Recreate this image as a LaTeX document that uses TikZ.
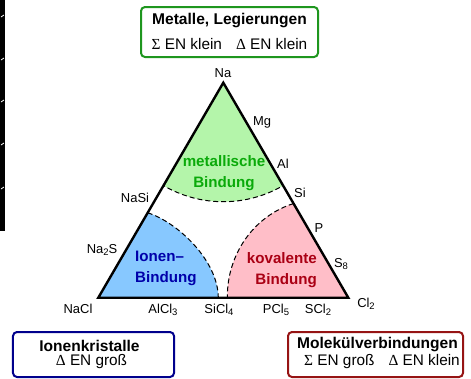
\documentclass[tikz,border=0pt]{standalone}
\usepackage{fontspec}
\setmainfont{Liberation Sans}
\newfontfamily\symf{Liberation Serif}
\usetikzlibrary{calc}
\definecolor{gfill}{RGB}{180,245,170}
\definecolor{bfill}{RGB}{135,200,255}
\definecolor{pfill}{RGB}{255,190,200}
\definecolor{gtext}{RGB}{10,170,10}
\definecolor{btext}{RGB}{0,0,170}
\definecolor{rtext}{RGB}{170,0,20}
\definecolor{gbord}{RGB}{30,150,30}
\definecolor{bbord}{RGB}{0,0,140}
\definecolor{rbord}{RGB}{150,20,20}
\newcommand\sbx[1]{\raisebox{-0.35ex}{\fontsize{9.5}{9.5}\selectfont #1}}
\begin{document}
\begin{tikzpicture}[x=1bp,y=-1bp,
  lab/.style={font=\fontsize{13}{13}\selectfont, inner sep=0pt},
  reg/.style={font=\fontsize{15.2}{21}\selectfont\bfseries, inner sep=0pt},
  boxst/.style={draw, line width=2bp, rounded corners=4bp},
  btitle/.style={font=\fontsize{15.6}{15.6}\selectfont\bfseries, inner sep=0pt},
  bline/.style={font=\fontsize{15.4}{15.4}\selectfont, inner sep=0pt},
  dsh/.style={dash pattern=on 5bp off 3bp, line width=1bp},
  edgeline/.style={line width=2.4bp, line join=miter}]
\useasboundingbox (0,0) rectangle (471,378);
% left edge strip
\fill[black] (0,0) rectangle (5,231);
\foreach \yy in {15,58,100,143,187} \draw[white, line width=0.8bp] (1,\yy+2) -- (4,\yy);
% corners
\coordinate (Na) at (223.3,82.7);
\coordinate (NaCl) at (98.3,297.7);
\coordinate (Cl) at (348.3,297.7);
% green region
\begin{scope}
  \clip (Na) -- (NaCl) -- (Cl) -- cycle;
  \fill[gfill] (Na) circle (119);
  \draw[dsh] (Na) circle (119);
\end{scope}
% blue region
\coordinate (b1) at ($(NaCl)!0.395!(Na)$);
\coordinate (b2) at ($(NaCl)!0.48!(Cl)$);
\fill[bfill] (NaCl) -- (b1) .. controls (177,222) and (218,260) .. (b2) -- cycle;
\draw[dsh] (b1) .. controls (177,222) and (218,260) .. (b2);
% pink region
\coordinate (p1) at ($(Cl)!0.438!(Na)$);
\coordinate (p2) at ($(Cl)!0.484!(NaCl)$);
\fill[pfill] (Cl) -- (p1) .. controls (254,216) and (227,254) .. (p2) -- cycle;
\draw[dsh] (p1) .. controls (254,216) and (227,254) .. (p2);
% triangle
\draw[edgeline] (Na) -- (NaCl) -- (Cl) -- cycle;
% vertex/edge labels
\node[lab] (lNa) at (223,73) {Na};
\node[lab] (lMg) at (262,122) {Mg};
\node[lab] (lAl) at (283,164) {Al};
\node[lab] (lSi) at (300,193) {Si};
\node[lab] (lP) at (319,228) {P};
\node[lab] (lS8) at (341,264) {S\sbx{8}};
\node[lab] (lCl2) at (366,304) {Cl\sbx{2}};
\node[lab] (lNaSi) at (135,198) {NaSi};
\node[lab] (lNa2S) at (102,250) {Na\sbx{2}S};
\node[lab] (lNaCl) at (78,309) {NaCl};
\node[lab] (lAlCl3) at (163,310) {AlCl\sbx{3}};
\node[lab] (lSiCl4) at (219,310) {SiCl\sbx{4}};
\node[lab] (lPCl5) at (276,310) {PCl\sbx{5}};
\node[lab] (lSCl2) at (318,310) {SCl\sbx{2}};
% region labels
\node[reg, text=gtext, align=center] (rmet) at (224,173) {metallische\\Bindung};
\node[reg, text=btext, align=left, anchor=west] (rion) at (135,268) {Ionen–\\Bindung};
\node[reg, text=rtext, align=right, anchor=east] (rkov) at (317,270) {kovalente\\Bindung};
% boxes
\node[boxst, draw=gbord, minimum width=177bp, minimum height=50bp] (bmet) at (229.5,32) {};
\node[btitle] (tmet1) at (229.5,21) {Metalle, Legierungen};
\node[bline] (tmet2) at (229.5,44) {{\symf Σ} EN klein\hspace{14bp}{\symf Δ} EN klein};
\node[boxst, draw=bbord, minimum width=161bp, minimum height=45bp] (bion) at (93.5,354.5) {};
\node[btitle] (tion1) at (89.5,346) {Ionenkristalle};
\node[bline] (tion2) at (91.5,362) {{\symf Δ} EN groß};
\node[boxst, draw=rbord, minimum width=175bp, minimum height=45bp] (bmol) at (375.5,354.5) {};
\node[btitle] (tmol1) at (377.5,345) {Molekülverbindungen};
\node[bline] (tmol2) at (382,362) {{\symf Σ} EN groß\hspace{14bp}{\symf Δ} EN klein};
\end{tikzpicture}
\end{document}
